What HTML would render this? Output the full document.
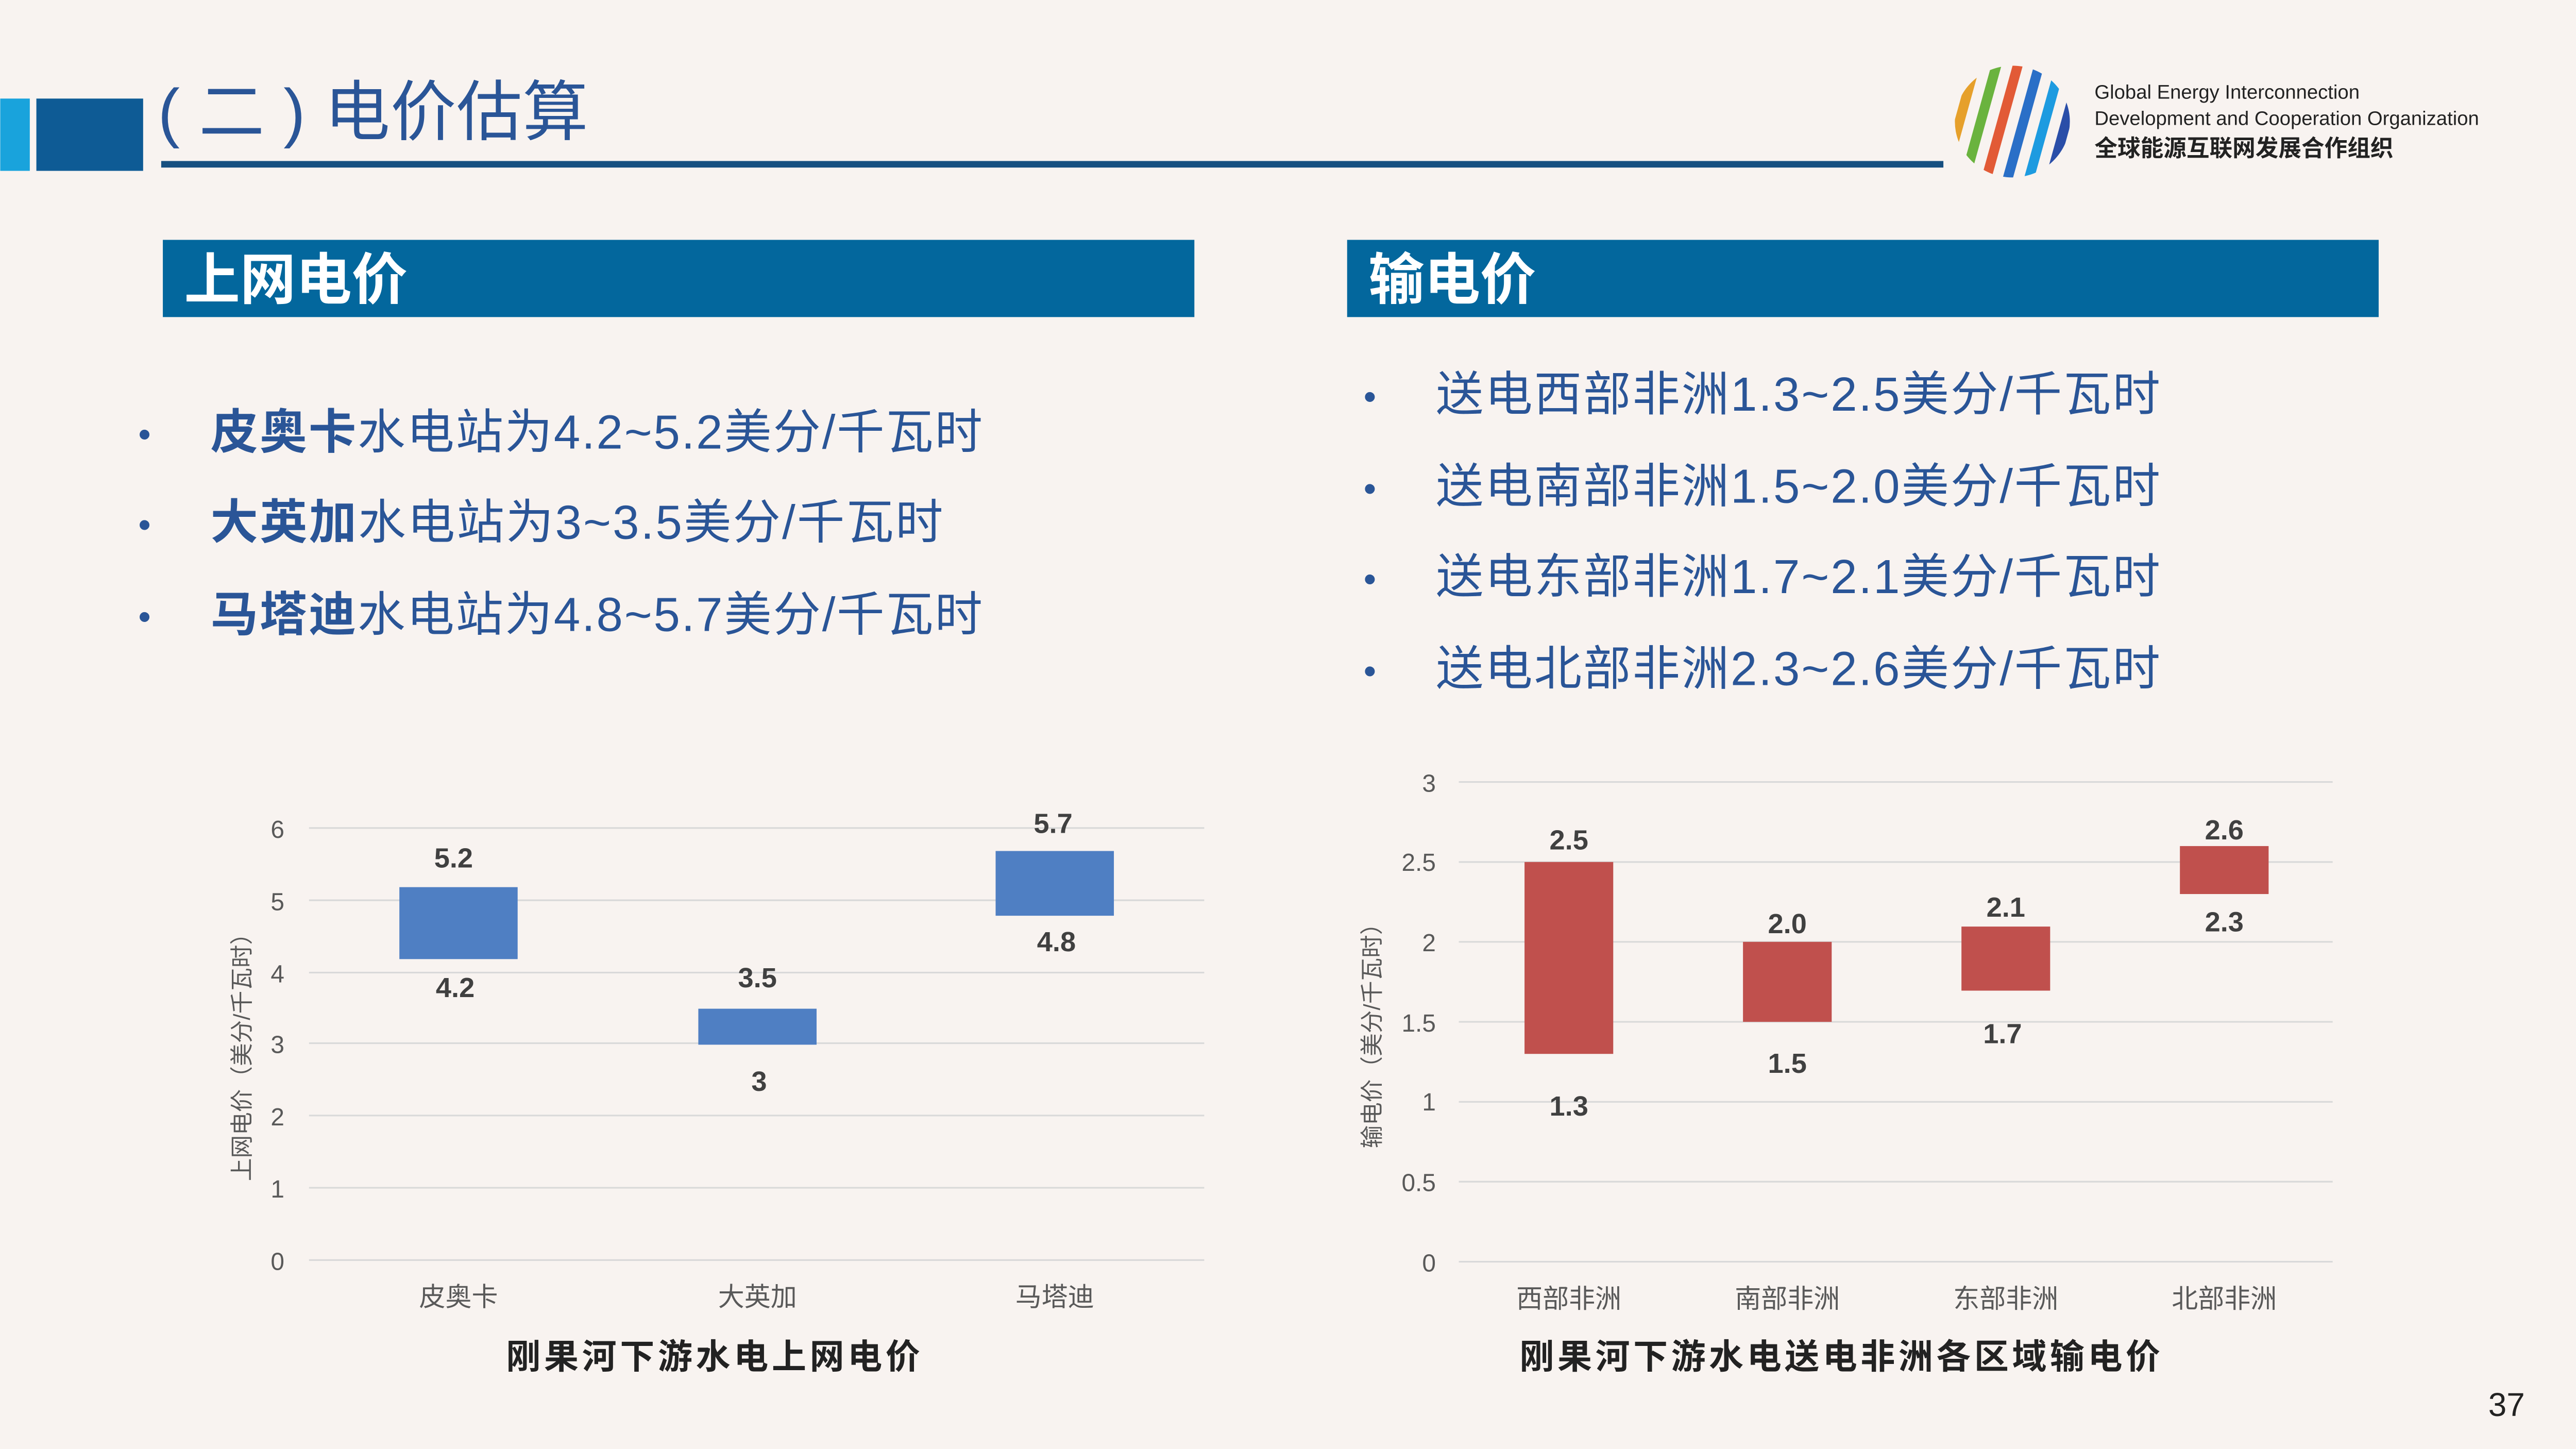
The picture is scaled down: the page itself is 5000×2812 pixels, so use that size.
<!DOCTYPE html>
<html><head><meta charset="utf-8"><style>
html,body{margin:0;padding:0;background:#f8f3f0;}
svg{display:block}
text{font-family:"Liberation Sans","Noto Sans CJK SC",sans-serif;}
</style></head><body>
<svg width="5000" height="2812" viewBox="0 0 1568 882" xmlns="http://www.w3.org/2000/svg">
<defs><clipPath id="gl"><ellipse cx="1225" cy="74" rx="35" ry="34"/></clipPath></defs>
<rect width="1568" height="882" fill="#f8f3f0"/>
<!-- header -->
<rect x="0" y="60" width="18" height="44" fill="#19a3dc"/>
<rect x="22" y="60" width="65" height="44" fill="#0e5b95"/>
<rect x="98" y="98" width="1085" height="4" fill="#164f80"/>
<text x="96" y="82" font-size="40" fill="#2a5597" textLength="262" lengthAdjust="spacing">( 二 ) 电价估算</text>
<!-- logo -->
<g clip-path="url(#gl)" fill="none" stroke-width="6">
<line x1="1205" y1="30" x2="1180" y2="120" stroke="#e6a02b"/>
<line x1="1218" y1="30" x2="1193" y2="120" stroke="#6ab33e"/>
<line x1="1231" y1="30" x2="1206" y2="120" stroke="#e25a36"/>
<line x1="1244" y1="30" x2="1219" y2="120" stroke="#2a6fc7"/>
<line x1="1257" y1="30" x2="1232" y2="120" stroke="#1d9be0"/>
<line x1="1270" y1="30" x2="1245" y2="120" stroke="#2a4ea8"/>
<line x1="1192" y1="30" x2="1167" y2="120" stroke="#2a4ea8"/>
</g>
<text x="1275" y="60" font-size="12" fill="#222" font-family="Liberation Serif,serif">Global Energy Interconnection</text>
<text x="1275" y="76" font-size="12" fill="#222" font-family="Liberation Serif,serif">Development and Cooperation Organization</text>
<text x="1275" y="95" font-size="14" font-weight="bold" fill="#222">全球能源互联网发展合作组织</text>
<!-- section bars -->
<rect x="99" y="146" width="628" height="47" fill="#03679d"/>
<text x="112" y="182" font-size="34" font-weight="bold" fill="#fff">上网电价</text>
<rect x="820" y="146" width="628" height="47" fill="#03679d"/>
<text x="833" y="182" font-size="34" font-weight="bold" fill="#fff">输电价</text>
<!-- bullets left -->
<g font-size="29" fill="#2a5597">
<text x="84" y="272" font-size="22">•</text>
<text x="128" y="273" textLength="470" lengthAdjust="spacing"><tspan font-weight="bold">皮奥卡</tspan>水电站为4.2~5.2美分/千瓦时</text>
<text x="84" y="327" font-size="22">•</text>
<text x="128" y="328" textLength="446" lengthAdjust="spacing"><tspan font-weight="bold">大英加</tspan>水电站为3~3.5美分/千瓦时</text>
<text x="84" y="383" font-size="22">•</text>
<text x="128" y="384" textLength="470" lengthAdjust="spacing"><tspan font-weight="bold">马塔迪</tspan>水电站为4.8~5.7美分/千瓦时</text>
</g>
<g font-size="29" fill="#2a5597">
<text x="830" y="249" font-size="22">•</text><text x="874" y="250" textLength="441" lengthAdjust="spacing">送电西部非洲1.3~2.5美分/千瓦时</text>
<text x="830" y="305" font-size="22">•</text><text x="874" y="306" textLength="441" lengthAdjust="spacing">送电南部非洲1.5~2.0美分/千瓦时</text>
<text x="830" y="360" font-size="22">•</text><text x="874" y="361" textLength="441" lengthAdjust="spacing">送电东部非洲1.7~2.1美分/千瓦时</text>
<text x="830" y="416" font-size="22">•</text><text x="874" y="417" textLength="441" lengthAdjust="spacing">送电北部非洲2.3~2.6美分/千瓦时</text>
</g>
<!-- left chart -->
<g stroke="#d9d9d9" stroke-width="1">
<line x1="188" x2="733" y1="767" y2="767"/><line x1="188" x2="733" y1="723" y2="723"/>
<line x1="188" x2="733" y1="679" y2="679"/><line x1="188" x2="733" y1="635" y2="635"/>
<line x1="188" x2="733" y1="592" y2="592"/><line x1="188" x2="733" y1="548" y2="548"/>
<line x1="188" x2="733" y1="504" y2="504"/>
</g>
<g font-size="15" fill="#595959" text-anchor="end">
<text x="173" y="773">0</text><text x="173" y="729">1</text><text x="173" y="685">2</text>
<text x="173" y="641">3</text><text x="173" y="598">4</text><text x="173" y="554">5</text><text x="173" y="510">6</text>
</g>
<text transform="translate(152,640) rotate(-90)" font-size="14" fill="#595959" text-anchor="middle">上网电价（美分/千瓦时）</text>
<g fill="#4f7fc3">
<rect x="243" y="540" width="72" height="43.8"/>
<rect x="425" y="614" width="72" height="21.9"/>
<rect x="606" y="518" width="72" height="39.4"/>
</g>
<g font-size="17" font-weight="bold" fill="#404040" text-anchor="middle">
<text x="276" y="528">5.2</text><text x="277" y="607">4.2</text>
<text x="461" y="601">3.5</text><text x="462" y="664">3</text>
<text x="641" y="507">5.7</text><text x="643" y="579">4.8</text>
</g>
<g font-size="16" fill="#595959" text-anchor="middle">
<text x="279" y="795">皮奥卡</text><text x="461" y="795">大英加</text><text x="642" y="795">马塔迪</text>
</g>
<text x="434" y="833" font-size="21" font-weight="bold" fill="#222" text-anchor="middle" textLength="252" lengthAdjust="spacing">刚果河下游水电上网电价</text>
<!-- right chart -->
<g stroke="#d9d9d9" stroke-width="1">
<line x1="888" x2="1420" y1="768" y2="768"/><line x1="888" x2="1420" y1="719.3" y2="719.3"/>
<line x1="888" x2="1420" y1="670.7" y2="670.7"/><line x1="888" x2="1420" y1="622" y2="622"/>
<line x1="888" x2="1420" y1="573.3" y2="573.3"/><line x1="888" x2="1420" y1="524.7" y2="524.7"/>
<line x1="888" x2="1420" y1="476" y2="476"/>
</g>
<g font-size="15" fill="#595959" text-anchor="end">
<text x="874" y="774">0</text><text x="874" y="725">0.5</text><text x="874" y="676">1</text>
<text x="874" y="628">1.5</text><text x="874" y="579">2</text><text x="874" y="530">2.5</text><text x="874" y="482">3</text>
</g>
<text transform="translate(840,627) rotate(-90)" font-size="14" fill="#595959" text-anchor="middle">输电价（美分/千瓦时）</text>
<g fill="#c0504d">
<rect x="928" y="524.7" width="54" height="116.8"/>
<rect x="1061" y="573.3" width="54" height="48.7"/>
<rect x="1194" y="564" width="54" height="39"/>
<rect x="1327" y="515" width="54" height="29.2"/>
</g>
<g font-size="17" font-weight="bold" fill="#404040" text-anchor="middle">
<text x="955" y="517">2.5</text><text x="955" y="679">1.3</text>
<text x="1088" y="568">2.0</text><text x="1088" y="653">1.5</text>
<text x="1221" y="558">2.1</text><text x="1219" y="635">1.7</text>
<text x="1354" y="511">2.6</text><text x="1354" y="567">2.3</text>
</g>
<g font-size="16" fill="#595959" text-anchor="middle">
<text x="955" y="796">西部非洲</text><text x="1088" y="796">南部非洲</text>
<text x="1221" y="796">东部非洲</text><text x="1354" y="796">北部非洲</text>
</g>
<text x="1120" y="833" font-size="21" font-weight="bold" fill="#222" text-anchor="middle" textLength="390" lengthAdjust="spacing">刚果河下游水电送电非洲各区域输电价</text>
<text x="1537" y="862" font-size="20" fill="#222" text-anchor="end">37</text>
</svg>
</body></html>
